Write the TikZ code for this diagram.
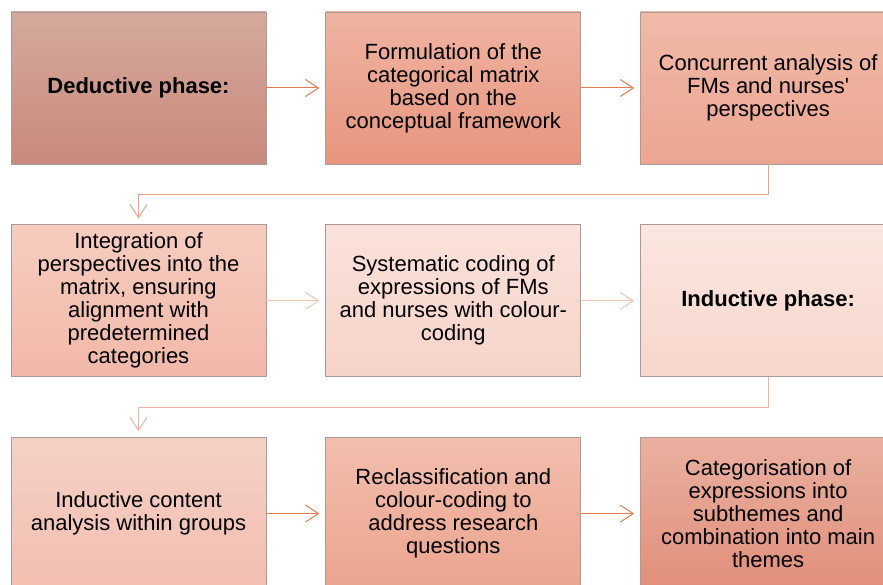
\documentclass[tikz,border=0pt]{standalone}
\usepackage{fontspec}
\setmainfont{Liberation Sans}
\usepackage{tikz}
\usetikzlibrary{positioning}
\usetikzlibrary{arrows.meta}
\usepackage{xcolor}

\definecolor{boxgrey}{HTML}{A89A98}
\definecolor{arrowdark}{HTML}{E87A50}
\definecolor{arrowpale}{HTML}{F6C4B4}
\definecolor{elbowone}{HTML}{F2A282}
\definecolor{elbowtwo}{HTML}{F2B2A0}
% box shades, top and bottom
\definecolor{deducttop}{HTML}{D5A99D}\definecolor{deductbot}{HTML}{C88A7C}
\definecolor{matrixtop}{HTML}{EFB4A2}\definecolor{matrixbot}{HTML}{E8957E}
\definecolor{concurtop}{HTML}{F0BAA9}\definecolor{concurbot}{HTML}{ECA590}
\definecolor{integtop}{HTML}{F6CDC0}\definecolor{integbot}{HTML}{F2B8A8}
\definecolor{codingtop}{HTML}{FAE2DA}\definecolor{codingbot}{HTML}{F6D3C9}
\definecolor{inducttop}{HTML}{FBE7E0}\definecolor{inductbot}{HTML}{F7D6CC}
\definecolor{contenttop}{HTML}{F6D1C6}\definecolor{contentbot}{HTML}{F2BEB0}
\definecolor{reclasstop}{HTML}{F2BEAE}\definecolor{reclassbot}{HTML}{ECA48E}
\definecolor{categtop}{HTML}{EAB0A0}\definecolor{categbot}{HTML}{E18F7A}

\tikzset{
  stagebox/.style={rectangle, draw=boxgrey, line width=0.8pt,
    top color=#1top, bottom color=#1bot, minimum width=255pt, minimum height=152pt,
    align=center, font=\fontsize{22}{23}\selectfont},
  link/.style={->, line width=1pt, shorten >=6pt}
}

\begin{document}
\begin{tikzpicture}[node distance=60pt and 59pt, >={Straight Barb[length=13pt,width=17pt]}]
   \useasboundingbox (0,0) rectangle (883pt,-585pt);
   \node[stagebox=deduct] (deduct) at (138.5pt,-88pt) {\textbf{Deductive phase:}};
   \node[stagebox=matrix] (matrix) [right=of deduct] {Formulation of the\\categorical matrix\\based on the\\conceptual framework};
   \node[stagebox=concur] (concur) [right=of matrix] {Concurrent analysis of\\FMs and nurses\textquotesingle\\perspectives};
   \node[stagebox=integ] (integ) [below=of deduct] {Integration of\\perspectives into the\\matrix, ensuring\\alignment with\\predetermined\\categories};
   \node[stagebox=coding] (coding) [right=of integ] {Systematic coding of\\expressions of FMs\\and nurses with colour-\\coding};
   \node[stagebox=induct] (induct) [right=of coding] {\textbf{Inductive phase:}};
   \node[stagebox=content] (content) [below=of integ] {Inductive content\\analysis within groups};
   \node[stagebox=reclass] (reclass) [right=of content] {Reclassification and\\colour-coding to\\address research\\questions};
   \node[stagebox=categ] (categ) [right=of reclass] {Categorisation of\\expressions into\\subthemes and\\combination into main\\themes};
    \path[link]
    (deduct) edge[draw=arrowdark] (matrix)
    (matrix) edge[draw=arrowdark] (concur)
    (integ) edge[draw=arrowpale] (coding)
    (coding) edge[draw=arrowpale] (induct)
    (content) edge[draw=arrowdark] (reclass)
    (reclass) edge[draw=arrowdark] (categ);
    \draw[link, draw=elbowone] (concur.south) -- ++(0,-30pt) -| (integ.north);
    \draw[link, draw=elbowtwo] (induct.south) -- ++(0,-30pt) -| (content.north);
\end{tikzpicture}
\end{document}
